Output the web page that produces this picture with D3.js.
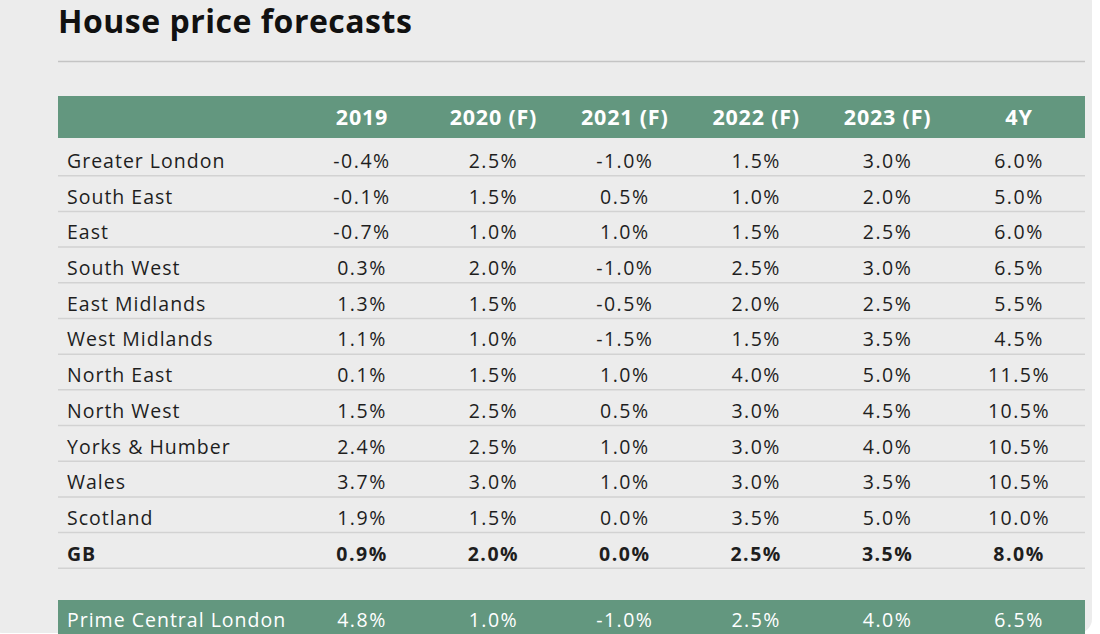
<!DOCTYPE html>
<html><head><meta charset="utf-8">
<script src="https://cdn.jsdelivr.net/npm/d3@7"></script>
<style>
html,body{margin:0;padding:0;background:#fff;}
svg{display:block;font-family:"Open Sans",sans-serif;}
</style></head>
<body>
<svg id="chart" width="1100" height="634"></svg>
<script>
const title = "House price forecasts";
const columns = ["2019", "2020 (F)", "2021 (F)", "2022 (F)", "2023 (F)", "4Y"];
const regions = ["Greater London","South East","East","South West","East Midlands","West Midlands","North East","North West","Yorks & Humber","Wales","Scotland","GB"];
const v2019 = [-0.4,-0.1,-0.7,0.3,1.3,1.1,0.1,1.5,2.4,3.7,1.9,0.9];
const v2020 = [2.5,1.5,1.0,2.0,1.5,1.0,1.5,2.5,2.5,3.0,1.5,2.0];
const v2021 = [-1.0,0.5,1.0,-1.0,-0.5,-1.5,1.0,0.5,1.0,1.0,0.0,0.0];
const v2022 = [1.5,1.0,1.5,2.5,2.0,1.5,4.0,3.0,3.0,3.0,3.5,2.5];
const v2023 = [3.0,2.0,2.5,3.0,2.5,3.5,5.0,4.5,4.0,3.5,5.0,3.5];
const v4y   = [6.0,5.0,6.0,6.5,5.5,4.5,11.5,10.5,10.5,10.5,10.0,8.0];
const primeLabel = "Prime Central London";
const primeValues = [4.8,1.0,-1.0,2.5,4.0,6.5];

const series = [v2019,v2020,v2021,v2022,v2023,v4y];
const fmt = v => d3.format(".1f")(v).replace("\u2212","-") + "%";
const green = "#63977f";

const svg = d3.select("#chart");
// card
svg.append("rect").attr("x",-12).attr("y",-12).attr("width",1104).attr("height",645)
  .attr("rx",14).attr("fill","#ececec");

const left = 58, right = 1085, labelX = 67;
svg.append("text").attr("x",left).attr("y",33).attr("font-size",32).attr("font-weight",700)
  .attr("letter-spacing",0.5).attr("fill","#111").text(title);
svg.append("line").attr("x1",left).attr("x2",right).attr("y1",61.5).attr("y2",61.5)
  .attr("stroke","#c4c4c4").attr("stroke-width",1.5);

const x = d3.scalePoint().domain(columns).range([362, 1019]);
const y = d3.scaleBand().domain(regions).range([140, 568.3]);

// header
svg.append("rect").attr("x",left).attr("y",96).attr("width",right-left).attr("height",42).attr("fill",green);
svg.selectAll("text.hdr").data(columns).join("text").attr("class","hdr")
  .attr("x",d=>x(d)).attr("y",125).attr("text-anchor","middle")
  .attr("font-size",21.5).attr("font-weight",700).attr("letter-spacing",0.8)
  .attr("fill","#fff").text(d=>d);

// rows
const rows = svg.selectAll("g.row").data(regions).join("g").attr("class","row")
  .attr("transform",d=>`translate(0,${y(d)})`);
rows.append("line").attr("x1",left).attr("x2",right)
  .attr("y1",y.bandwidth()).attr("y2",y.bandwidth())
  .attr("stroke","#d2d2d2").attr("stroke-width",1.5);
rows.append("text").attr("x",labelX).attr("y",28).attr("font-size",19.5).attr("letter-spacing",1)
  .attr("font-weight",d=>d==="GB"?700:400).attr("fill","#1e1e1e").text(d=>d);
rows.each(function(region,i){
  d3.select(this).selectAll("text.val").data(columns).join("text").attr("class","val")
    .attr("x",c=>x(c)).attr("y",28).attr("text-anchor","middle").attr("font-size",19.5)
    .attr("letter-spacing",1.5)
    .attr("font-weight",region==="GB"?700:400).attr("fill","#1e1e1e")
    .text((c,j)=>fmt(series[j][i]));
});

// prime central london
svg.append("rect").attr("x",left).attr("y",600).attr("width",right-left).attr("height",40).attr("fill",green);
svg.append("text").attr("x",labelX).attr("y",627).attr("font-size",19.5).attr("letter-spacing",1)
  .attr("fill","#fff").text(primeLabel);
svg.selectAll("text.pcl").data(columns).join("text").attr("class","pcl")
  .attr("x",d=>x(d)).attr("y",627).attr("text-anchor","middle").attr("font-size",19.5)
  .attr("letter-spacing",1.5).attr("fill","#fff").text((d,j)=>fmt(primeValues[j]));
</script>
</body></html>
